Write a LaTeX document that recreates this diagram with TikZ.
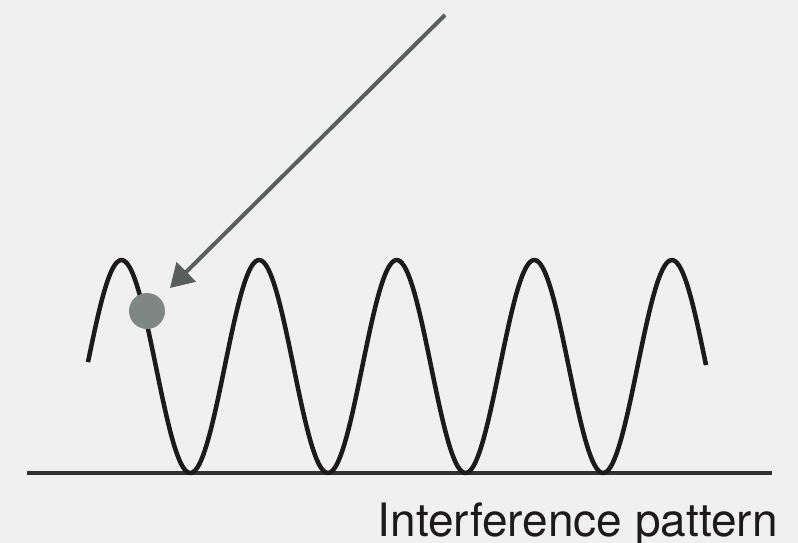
\documentclass[tikz,border=0pt]{standalone}
\usepackage{fontspec}
\setmainfont{TeX Gyre Heros}
\usetikzlibrary{arrows.meta}
\definecolor{bg}{HTML}{F0F0F1}
\definecolor{wavec}{HTML}{1C1A1A}
\definecolor{arrowc}{HTML}{5A5E5C}
\definecolor{dotc}{HTML}{7F8784}
\tikzset{
  wave/.style={line width=4.5pt, color=wavec, line join=round},
  baseln/.style={line width=4pt, color=wavec!90!white},
  ray/.style={line width=4pt, color=arrowc, -{Triangle[length=23pt,width=27pt]}},
  particle/.style={circle, fill=dotc, minimum size=36pt, inner sep=0pt},
  caption/.style={font=\fontsize{46pt}{50pt}\selectfont, text=wavec, inner sep=0pt, anchor=base east}
}
\begin{document}
\begin{tikzpicture}[x=1pt,y=-1pt]
\fill[bg] (0,0) rectangle (798,543);
\useasboundingbox (0,0) rectangle (798,543);
\coordinate (bl) at (27,473);
\coordinate (br) at (772,473);
\draw[baseln] (bl) -- (br);
\draw[wave] plot[domain=88:706, samples=300, smooth] (\x, {366.5 - 106.5*cos((\x-121.5)/137.6*360)});
\node[particle] (dot) at (147,311) {};
\coordinate (src) at (445,15);
\coordinate (tip) at (170,288);
\draw[ray] (src) -- (tip);
\node[caption] (label) at (778,536) {Interference pattern};
\end{tikzpicture}
\end{document}
